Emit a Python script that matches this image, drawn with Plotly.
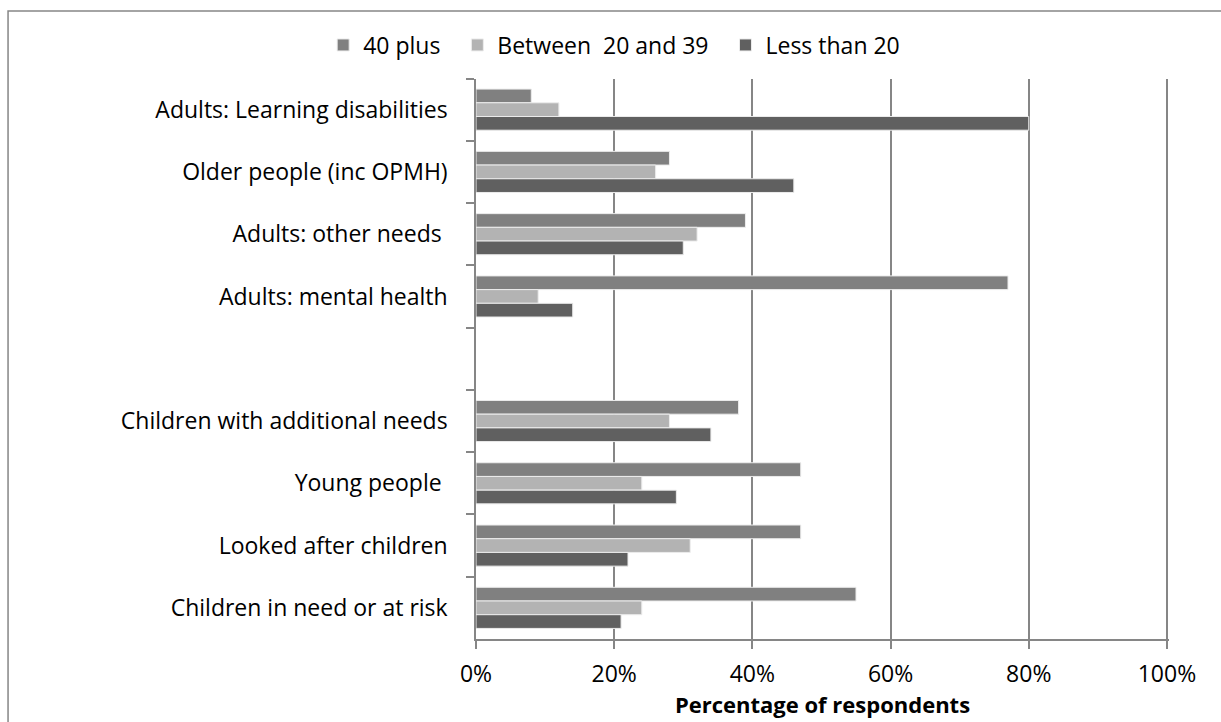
import plotly.graph_objects as go

# Service areas, listed top to bottom (the blank entry separates adult and children services)
categories = [
    "Adults: Learning disabilities",
    "Older people (inc OPMH)",
    "Adults: other needs ",
    "Adults: mental health",
    " ",
    "Children with additional needs",
    "Young people ",
    "Looked after children",
    "Children in need or at risk",
]

# Percentage of respondents per caseload band
forty_plus = [8, 28, 39, 77, None, 38, 47, 47, 55]
between_20_39 = [12, 26, 32, 9, None, 28, 24, 31, 24]
less_than_20 = [80, 46, 30, 14, None, 34, 29, 22, 21]

series_names = ["40 plus\u00a0\u00a0", "Between\u00a0 20 and 39\u00a0\u00a0", "Less than 20"]
series_values = [forty_plus, between_20_39, less_than_20]
series_colors = ["#808080", "#b3b3b3", "#606060"]

x_ticks = [0, 20, 40, 60, 80, 100]

FONT = "Open Sans"
FS = 23
AXIS_GREY = "#868686"

fig = go.Figure()
for name, vals, col in zip(series_names, series_values, series_colors):
    fig.add_trace(go.Bar(
        y=categories,
        x=vals,
        name=name,
        orientation="h",
        marker=dict(color=col, line=dict(color="#ececec", width=1)),
    ))

W, H = 1221, 722
X_MAX = 100.3
L, T, B = 476, 75, 639
R = L + 691 * X_MAX / 100

fig.update_layout(
    width=W,
    height=H,
    margin=dict(l=L, r=W - R, t=T, b=H - B),
    barmode="group",
    bargap=0.34,
    bargroupgap=0,
    plot_bgcolor="white",
    paper_bgcolor="white",
    font=dict(family=FONT, size=FS, color="#000000"),
    legend=dict(
        orientation="h",
        xref="container",
        yref="container",
        x=0.503,
        xanchor="center",
        y=1 - 45 / H,
        yanchor="middle",
        font=dict(family=FONT, size=FS),
        itemwidth=30,
        tracegroupgap=0,
    ),
    xaxis=dict(
        range=[0, X_MAX],
        tickmode="array",
        tickvals=x_ticks,
        ticktext=[f"{v}%" for v in x_ticks],
        showgrid=True,
        gridcolor=AXIS_GREY,
        gridwidth=1.5,
        showline=True,
        linecolor=AXIS_GREY,
        linewidth=1.5,
        ticks="outside",
        ticklen=8,
        tickwidth=1.5,
        tickcolor=AXIS_GREY,
        ticklabelstandoff=6,
        zeroline=False,
        tickfont=dict(family=FONT, size=FS),
        title=dict(
            text="<b>Percentage of respondents</b>",
            font=dict(family=FONT, size=22),
            standoff=2,
        ),
    ),
    yaxis=dict(
        categoryorder="array",
        categoryarray=categories,
        autorange="reversed",
        showgrid=False,
        showline=True,
        linecolor=AXIS_GREY,
        linewidth=1.5,
        ticks="outside",
        tickson="boundaries",
        ticklen=8,
        tickwidth=1.5,
        tickcolor=AXIS_GREY,
        ticklabelstandoff=22,
        tickfont=dict(family=FONT, size=FS),
    ),
)

# Chart frame around the whole figure
pw, ph = R - L, B - T
fig.add_shape(
    type="rect",
    xref="paper",
    yref="paper",
    x0=(8 - L) / pw,
    x1=(W + 10 - L) / pw,
    y0=(B - (H + 10)) / ph,
    y1=(B - 7) / ph,
    line=dict(color=AXIS_GREY, width=1.5),
    fillcolor="rgba(0,0,0,0)",
    layer="below",
)

fig.write_html("out.html")
